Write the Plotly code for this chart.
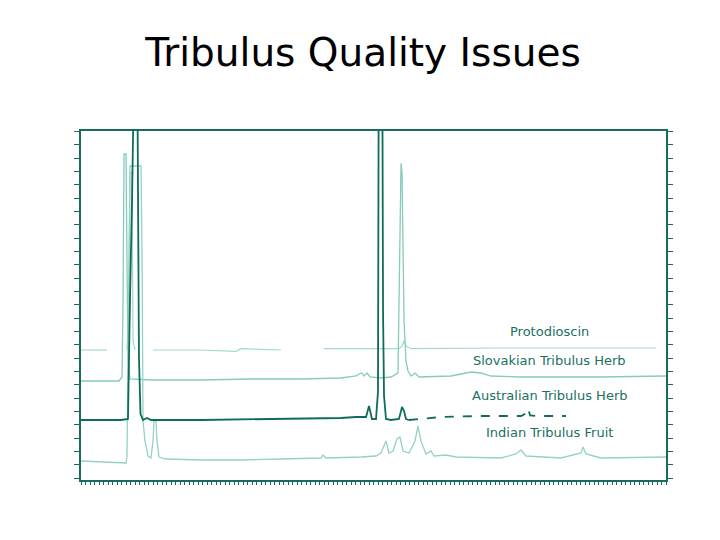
import plotly.graph_objects as go

# Retention time (min) and detector response (mAU)
proto_t = [0, 2.2, 2.89, None, 5.11, 5.33, 5.44, 5.67, 5.78, 6.0, None, 8.0, 13.33, 17.22, 17.78, 22.22, None,
           27.0, 33.33, 35.33, 35.67, 35.89, 36.11, 36.67, 46.67, 63.9]
proto_y = [96, 96, 96, None, 96, 132, 229, 229, 103, 96, None, 96, 96, 95, 97, 96, None,
           97, 97, 97, 99, 103, 99, 97, 97.5, 97.5]

slovak_t = [0, 2.22, 4.22, 4.56, 4.67, 4.78, 5.0, 5.11, 5.22, 5.44, 7.78, 13.33, 18.89, 24.44, 28.89, 30.56,
            30.89, 31.22, 31.44, 31.78, 32.11, 33.33, 34.44, 35.22, 35.44, 35.56, 35.67, 35.78, 35.89, 36.11,
            36.33, 36.67, 37.11, 37.56, 41.11, 42.22, 43.33, 44.44, 45.56, 48.89, 57.78, 65]
slovak_y = [72.75, 72.75, 72.75, 75.75, 133, 243, 243, 162, 87.75, 74.25, 73.5, 73.5, 74.25, 74.25, 75, 76.5,
            78, 78.75, 76.5, 78.75, 75.75, 75, 75.75, 78.75, 170, 236, 229, 170, 118, 87.75,
            80.25, 76.5, 78.75, 75.75, 76.5, 78, 79.5, 78.75, 76.5, 75.75, 75.75, 76.5]

austr_t = [0, 4.44, 5.22, 5.33, 5.44, 5.67, 5.89, 6.11, 6.22, 6.33, 6.44, 6.61, 6.89, 7.33, 7.78, 13.33,
           22.22, 28.89, 30.56, 31.67, 32.0, 32.33, 32.78, 33.0, 33.11, 33.44, 33.56, 33.67, 33.89, 34.44,
           35.33, 35.67, 35.89, 36.11, 36.44]
austr_y = [43.5, 43.5, 44.25, 110, 133, 208, 400, 400, 350, 148, 91, 48, 43.5, 45, 43.5, 43.5,
           44.25, 45, 45.75, 45.75, 54, 44.25, 44.25, 65, 400, 400, 125, 61.5, 44.25, 43.5,
           44.25, 53.25, 50.25, 44.25, 43.5]

austr_tail_t = [36.44, 40.0, 44.44, 48.9, 49.44, 49.67, 49.9, 50.5, 53.89]
austr_tail_y = [43.5, 45.75, 46.5, 46.5, 48.5, 52, 47, 46.5, 46.5]

indian_t = [0, 2.22, 3.89, 5.0, 5.11, 5.22, 5.33, 5.44, 6.67, 6.78, 6.89, 7.11, 7.44, 7.78, 8.0, 8.11, 8.33,
            8.44, 8.67, 9.44, 13.33, 17.78, 22.22, 26.67, 26.89, 27.22, 31.11, 32.78, 33.33, 33.89, 34.22,
            34.67, 35.11, 35.44, 35.78, 36.44, 37.11, 37.44, 37.78, 38.33, 38.89, 39.22, 40.56, 41.67,
            46.67, 48.33, 48.89, 49.44, 53.33, 55.56, 55.78, 56.11, 57.78, 65]
indian_y = [12.75, 12, 11.25, 11.25, 16.5, 95, 207, 234, 234, 170, 42.75, 27.75, 16.5, 15, 27.75, 42.75, 42.75,
            27.75, 15.75, 14.25, 13.5, 13.5, 14.25, 15, 17.25, 15, 15.75, 16.5, 18.75, 27.75, 18.75,
            20.25, 29.25, 30.75, 20.25, 18.75, 27.75, 39, 27.75, 18, 20.25, 16.5, 17.25, 15.75,
            15, 18, 21, 16.5, 15, 18.75, 23.25, 18, 15, 15.75]

labels = ["Protodioscin", "Slovakian Tribulus Herb", "Australian Tribulus Herb", "Indian Tribulus Fruit"]
label_t = [52.0, 52.0, 52.0, 52.0]
label_y = [110, 88, 62, 34]

light = "#93d2c4"
dark = "#0f6b5a"
text_c = "#1a7061"

fig = go.Figure()
fig.add_trace(go.Scatter(x=proto_t, y=proto_y, mode="lines", line=dict(color="#a3d9cd", width=1.2),
                         connectgaps=False, hoverinfo="skip"))
fig.add_trace(go.Scatter(x=slovak_t, y=slovak_y, mode="lines", line=dict(color="#86cbbb", width=1.3),
                         hoverinfo="skip"))
fig.add_trace(go.Scatter(x=indian_t, y=indian_y, mode="lines", line=dict(color=light, width=1.3),
                         hoverinfo="skip"))
fig.add_trace(go.Scatter(x=austr_t, y=austr_y, mode="lines", line=dict(color=dark, width=1.8),
                         hoverinfo="skip"))
fig.add_trace(go.Scatter(x=austr_tail_t, y=austr_tail_y, mode="lines",
                         line=dict(color=dark, width=1.8, dash="dash"), hoverinfo="skip"))

for lab, lt, ly in zip(labels, label_t, label_y):
    fig.add_annotation(x=lt, y=ly, text=lab, showarrow=False,
                       font=dict(family="DejaVu Sans", size=13, color=text_c))

fig.update_layout(
    width=720, height=540,
    margin=dict(l=73, r=62, t=123, b=68),
    paper_bgcolor="white", plot_bgcolor="white",
    showlegend=False,
    title=dict(text="Tribulus Quality Issues", x=0.493, xanchor="center", y=0.918, yanchor="middle",
               font=dict(family="DejaVu Sans", size=39, color="black")),
)
fig.update_xaxes(range=[0, 65], showgrid=False, zeroline=False, showline=True, mirror=True,
                 linecolor="#1a6b5e", linewidth=1.5, ticks="outside", ticklen=3, tickwidth=1,
                 tickcolor="#1a6b5e", dtick=0.5, showticklabels=False)
fig.update_yaxes(range=[-1.5, 260.25], showgrid=False, zeroline=False, showline=True, mirror="ticks",
                 linecolor="#1a6b5e", linewidth=1.5, ticks="outside", ticklen=5, tickwidth=1,
                 tickcolor="#1a6b5e", tick0=0, dtick=10, showticklabels=False)

fig.write_html("out.html")
